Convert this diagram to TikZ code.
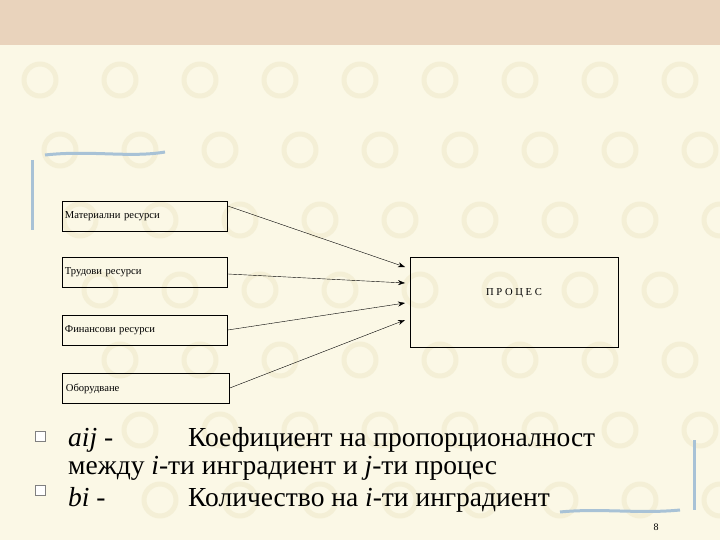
\documentclass[tikz,border=0pt]{standalone}
\usepackage{fontspec}
\setmainfont{Liberation Serif}
\usetikzlibrary{arrows.meta}
\definecolor{bg}{HTML}{FBF8E6}
\definecolor{band}{HTML}{E9D3BC}
\definecolor{swirl}{HTML}{F4EFD6}
\definecolor{deco}{HTML}{A8C2D6}
\tikzset{res/.style={draw,thick,minimum width=165pt,minimum height=30pt,anchor=north west,inner sep=2pt,font=\fontsize{10.6}{12}\selectfont,text width=160pt,align=left},
 conn/.style={-{Stealth[length=7pt,width=5pt]},thin},
 big/.style={anchor=base west,font=\fontsize{27.5}{30}\selectfont,inner sep=0pt},
 bul/.style={draw=gray,fill=white,minimum size=10pt,inner sep=0pt}}
\begin{document}
\begin{tikzpicture}[x=1pt,y=-1pt]
\useasboundingbox (0,0) rectangle (720,540);
\fill[bg] (0,0) rectangle (720,540);
\foreach \i in {0,...,8}{\foreach \j in {0,...,7}{
  \draw[swirl,line width=5pt] (\i*80+40+\j*20,\j*70+80) circle (16pt);}}
\fill[band] (0,0) rectangle (720,45);
\draw[deco,line width=3pt] (45,155) .. controls (90,150) and (130,158) .. (165,152);
\draw[deco,line width=3pt] (32,160) -- (32,230);
\draw[deco,line width=3pt] (694,440) -- (694,510);
\draw[deco,line width=3pt] (560,512) .. controls (600,508) and (640,514) .. (680,510);
\node[res] (m) at (62,201) {Материални ресурси};
\node[res] (t) at (62,257) {Трудови ресурси};
\node[res] (f) at (62,315) {Финансови ресурси};
\node[res,minimum width=167pt] (o) at (62,373) {Оборудване};
\node[draw,thick,minimum width=208pt,minimum height=90pt,anchor=north west] (p) at (410,257) {};
\node[font=\fontsize{10.6}{12}\selectfont] (pl) at (514,293) {П Р О Ц Е С};
\draw[conn] (m.east|-0,206) -- (405,267);
\draw[conn] (t.east|-0,274) -- (405,283);
\draw[conn] (f.east|-0,330) -- (405,303);
\draw[conn] (o.east|-0,388) -- (405,320);
\node[bul] (b1) at (40,436) {};
\node[bul] (b2) at (40,490) {};
\node[big] (a1) at (68,446) {\textit{aij} -};
\node[big] (a2) at (188,446) {Коефициент на пропорционалност};
\node[big] (a3) at (68,474) {между \textit{i}-ти инградиент и \textit{j}-ти процес};
\node[big] (a4) at (68,506) {\textit{bi} -};
\node[big] (a5) at (188,506) {Количество на \textit{i}-ти инградиент};
\node[font=\fontsize{10}{12}\selectfont] (n) at (656,527) {8};
\end{tikzpicture}
\end{document}
